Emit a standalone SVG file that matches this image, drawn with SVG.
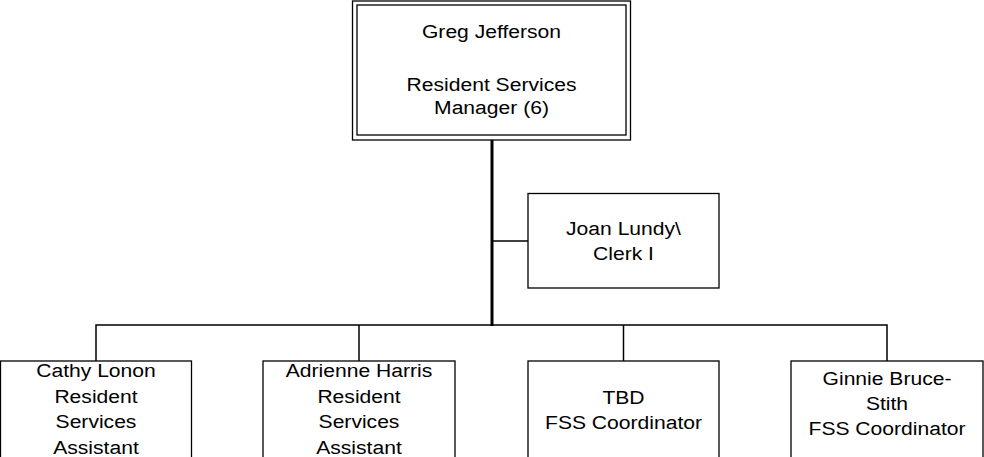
<svg xmlns="http://www.w3.org/2000/svg" width="984" height="457" viewBox="0 0 984 457">
  <style>
    .box { fill: #ffffff; stroke: #000000; stroke-width: 1.3; }
    .frame { fill: none; stroke: #000000; stroke-width: 1.3; }
    .link { fill: none; stroke: #000000; stroke-width: 1.5; }
    .trunk { fill: none; stroke: #000000; stroke-width: 3; }
    text { font-family: "Liberation Sans", Arial, sans-serif; font-size: 19px; fill: #000000; text-anchor: middle; }
  </style>

  <!-- connectors -->
  <g id="connectors">
    <line class="trunk" x1="492" y1="140" x2="492" y2="326"/>
    <line class="link" x1="492" y1="241" x2="528" y2="241"/>
    <polyline class="link" points="96,361 96,325 887,325 887,361"/>
    <line class="link" x1="359" y1="325" x2="359" y2="361"/>
    <line class="link" x1="623.5" y1="325" x2="623.5" y2="361"/>
  </g>

  <!-- manager -->
  <g id="node-manager">
    <rect class="frame" x="352.5" y="1" width="278" height="139"/>
    <rect class="box" x="357" y="5" width="269" height="130"/>
    <text transform="translate(491.5 37.5) scale(1.11 1)">Greg Jefferson</text>
    <text transform="translate(491.5 90.5) scale(1.11 1)">Resident Services</text>
    <text transform="translate(491.5 113.5) scale(1.11 1)">Manager (6)</text>
  </g>

  <!-- clerk -->
  <g id="node-clerk">
    <rect class="box" x="528" y="193.5" width="191" height="94.5"/>
    <text transform="translate(623.5 235) scale(1.11 1)">Joan Lundy\</text>
    <text transform="translate(623.5 260) scale(1.11 1)">Clerk I</text>
  </g>

  <!-- assistants and coordinators -->
  <g id="node-cathy">
    <rect class="box" x="0.5" y="361" width="191" height="110"/>
    <text transform="translate(96 377) scale(1.11 1)">Cathy Lonon</text>
    <text transform="translate(96 402.5) scale(1.11 1)">Resident</text>
    <text transform="translate(96 428) scale(1.11 1)">Services</text>
    <text transform="translate(96 453.5) scale(1.11 1)">Assistant</text>
  </g>

  <g id="node-adrienne">
    <rect class="box" x="263" y="361" width="192" height="110"/>
    <text transform="translate(359 377) scale(1.11 1)">Adrienne Harris</text>
    <text transform="translate(359 402.5) scale(1.11 1)">Resident</text>
    <text transform="translate(359 428) scale(1.11 1)">Services</text>
    <text transform="translate(359 453.5) scale(1.11 1)">Assistant</text>
  </g>

  <g id="node-tbd">
    <rect class="box" x="528" y="361" width="191" height="110"/>
    <text transform="translate(623.5 403.5) scale(1.11 1)">TBD</text>
    <text transform="translate(623.5 428.5) scale(1.11 1)">FSS Coordinator</text>
  </g>

  <g id="node-ginnie">
    <rect class="box" x="791" y="361" width="192" height="110"/>
    <text transform="translate(887 385) scale(1.11 1)">Ginnie Bruce-</text>
    <text transform="translate(887 410) scale(1.11 1)">Stith</text>
    <text transform="translate(887 435) scale(1.11 1)">FSS Coordinator</text>
  </g>
</svg>
